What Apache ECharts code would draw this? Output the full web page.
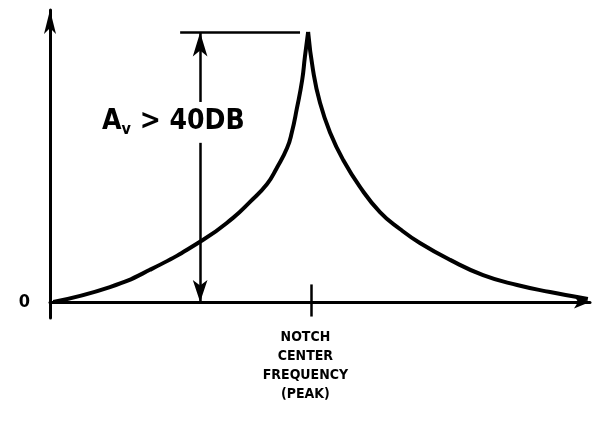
<!DOCTYPE html>
<html>
<head>
    <meta charset="utf-8" />
    <title>Notch response</title>
    <style>
        html, body { margin: 0; padding: 0; background: #fff; }
        #charts { width: 599px; height: 424px; }
    </style>
</head>
<body>
    <div id="charts"></div>
    <script src="https://cdn.jsdelivr.net/npm/echarts@6/dist/echarts.min.js"></script>
    <script type="text/javascript">
        // 曲线数据 (频率, 增益) —— 从图上读出
        var leftX = [0.6, 11.1, 18.5, 28.3, 33.9, 37.0, 40.2, 42.0, 43.9, 44.8, 45.7, 46.7, 47.2, 47.8];
        var leftY = [0, 5.1, 11.0, 21.2, 28.8, 34.2, 40.4, 45.9, 52.7, 58.2, 66.1, 76.0, 83.9, 92.5];
        var rightX = [47.8, 48.7, 50.0, 51.9, 54.3, 57.4, 61.1, 64.8, 68.5, 74.1, 80.2, 86.5, 92.6, 97.6, 99.6];
        var rightY = [92.5, 79.5, 68.2, 57.9, 48.6, 39.4, 30.8, 25.0, 20.2, 14.4, 9.2, 5.8, 3.4, 1.7, 1.0];

        var centerFreq = 48.3;
        var peakGain = 92.3;
        var arrowX = 27.8;
        var refLineX = [24.1, 46.3];
        var gapY = [54.5, 68.5];
        var yTickLabels = ['0'];
        var xTickLabel = 'NOTCH\nCENTER\nFREQUENCY\n(PEAK)';

        function pairs(xs, ys) {
            var out = [];
            for (var i = 0; i < xs.length; i++) out.push([xs[i], ys[i]]);
            return out;
        }

        var myChart = echarts.init(document.getElementById('charts'));
        var ink = '#000';
        var hand = 'Liberation Sans Narrow, DejaVu Sans Condensed, Liberation Sans, sans-serif';

        var option = {
            animation: false,
            grid: { left: 50, top: 10, width: 540, height: 308 },
            xAxis: {
                type: 'value', min: 0, max: 100,
                splitLine: { show: false },
                axisTick: { show: false },
                axisLine: { onZero: true, lineStyle: { color: ink, width: 3 },
                            symbol: ['none', 'arrow'], symbolSize: [10, 16] },
                axisLabel: {
                    customValues: [centerFreq - 1],
                    formatter: function () { return xTickLabel; },
                    color: ink, fontFamily: hand, fontWeight: 'bold', fontSize: 14,
                    lineHeight: 19, margin: 10
                }
            },
            yAxis: {
                type: 'value', min: -5.5, max: 100,
                splitLine: { show: false },
                axisTick: { show: false },
                axisLine: { lineStyle: { color: ink, width: 3 },
                            symbol: ['none', 'arrow'], symbolSize: [9, 24] },
                axisLabel: {
                    customValues: [0],
                    formatter: function (v) { return yTickLabels[0]; },
                    color: ink, fontFamily: hand, fontWeight: 'bold', fontSize: 18, margin: 20
                }
            },
            series: [
                {
                    type: 'line', data: pairs(leftX, leftY), smooth: 0.5,
                    showSymbol: false, lineStyle: { color: ink, width: 4 },
                    markLine: {
                        silent: true, symbol: ['none', 'none'], label: { show: false },
                        lineStyle: { color: ink, width: 2.5, type: 'solid' },
                        data: [
                            [{ coord: [refLineX[0], peakGain] }, { coord: [refLineX[1], peakGain] }],
                            [{ coord: [centerFreq, -5] }, { coord: [centerFreq, 6] }],
                            [{ coord: [arrowX, gapY[1]], symbol: 'none' },
                             { coord: [arrowX, peakGain], symbol: 'arrow', symbolSize: [11, 24] }],
                            [{ coord: [arrowX, gapY[0]], symbol: 'none' },
                             { coord: [arrowX, 0], symbol: 'arrow', symbolSize: [11, 22] }]
                        ]
                    }
                },
                {
                    type: 'line', data: pairs(rightX, rightY), smooth: 0.5,
                    showSymbol: false, lineStyle: { color: ink, width: 4 }
                }
            ],
            graphic: [{
                type: 'text', left: 102, top: 108,
                style: {
                    text: 'A{s|v} > 40DB',
                    font: 'bold 28px ' + hand, fill: ink,
                    rich: { s: { font: 'bold 16px ' + hand, fill: ink, padding: [16, 0, 0, 0] } }
                }
            }]
        };
        myChart.setOption(option);
    </script>
</body>
</html>
